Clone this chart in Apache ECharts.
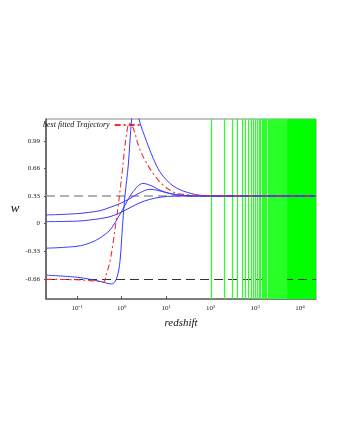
<!DOCTYPE html>
<html>
<head>
<meta charset="utf-8">
<script src="https://cdn.jsdelivr.net/npm/echarts@6/dist/echarts.min.js"></script>
<style>
  html, body { margin: 0; padding: 0; background: #fff; }
  #chart { width: 340px; height: 440px; }
</style>
</head>
<body>
<div id="chart"></div>
<script>
// best fitted trajectory (red dash-dot)
const redZ = [0.0203, 0.1, 0.195, 0.3, 0.387, 0.461, 0.547, 0.649, 0.745, 0.839, 0.93, 1.03, 1.14, 1.29, 1.48, 1.82, 2.35, 3.04, 3.94, 5.56, 8.53, 14.3, 23.9, 56.5, 22400];
const redW = [-0.665, -0.67, -0.68, -0.69, -0.70, -0.59, -0.45, -0.21, 0.02, 0.22, 0.42, 0.62, 0.85, 1.07, 1.20, 1.14, 0.94, 0.80, 0.69, 0.57, 0.46, 0.38, 0.35, 0.335, 0.33];

// blue trajectories
const blue1Z = [0.0203, 0.1, 0.195, 0.327, 0.494, 0.607, 0.773, 0.916, 1.0, 1.087, 1.186, 1.406, 1.676, 1.99, 2.44, 3.63, 5.1, 7.2, 10.2, 14.3, 23.9, 56.5, 158, 22400];
const blue1W = [-0.615, -0.64, -0.665, -0.69, -0.715, -0.72, -0.65, -0.45, -0.17, 0.10, 0.34, 0.70, 1.25, 1.50, 1.25, 0.98, 0.78, 0.62, 0.52, 0.45, 0.39, 0.34, 0.33, 0.33];

const blue2Z = [0.0203, 0.1, 0.1955, 0.327, 0.547, 0.785, 1.186, 1.79, 3.0, 4.76, 7.2, 12.0, 26, 94, 22400];
const blue2W = [-0.293, -0.27, -0.23, -0.17, -0.075, 0.05, 0.22, 0.38, 0.48, 0.45, 0.40, 0.36, 0.335, 0.33, 0.33];

const blue3Z = [0.0203, 0.1, 0.327, 0.547, 0.916, 1.535, 2.57, 4.3, 6.16, 10.2, 15.6, 26, 94, 22400];
const blue3W = [0.104, 0.12, 0.155, 0.195, 0.24, 0.30, 0.37, 0.41, 0.40, 0.37, 0.35, 0.335, 0.33, 0.33];

const blue4Z = [0.0203, 0.1, 0.1955, 0.327, 0.547, 0.916, 1.535, 2.57, 4.3, 7.2, 15.6, 56.5, 22400];
const blue4W = [0.024, 0.03, 0.044, 0.06, 0.083, 0.13, 0.19, 0.25, 0.29, 0.315, 0.33, 0.33, 0.33];

// green vertical lines (redshift positions)
const greenZ = [100, 200, 300, 400, 500, 600, 700, 800, 900, 1000,
  1100, 1200, 1300, 1400, 1500, 1600, 1700, 1800, 1900, 2000,
  2100, 2200, 2300, 2400, 2500, 2600, 2700, 2800, 2900, 3000,
  3100, 3200, 3300, 3400, 3500, 3600, 3700, 3800, 3900, 4000,
  4100, 4200, 4300, 4400, 4500, 4600, 4700, 4800, 4900, 5000];
const greenBandStart = 5000;

// reference levels
const wRadiation = 0.33;
const wTracker = -0.66;

// axes
const xTicks = [0.1, 1, 10, 100, 1000, 10000];
const yTicks = [-0.66, -0.33, 0, 0.33, 0.66, 0.99];
const xMin = 0.02, xMax = 23000;
const yMin = -0.9, yMax = 1.25;

const pairs = (xs, ys) => xs.map((x, i) => [x, ys[i]]);

const serif = 'Liberation Serif';
const blue = '#3a3aff';

const blueSeries = (data) => ({
  type: 'line',
  data: data,
  symbol: 'none',
  smooth: 0.35,
  z: 20,
  lineStyle: { color: blue, width: 1 }
});

const chart = echarts.init(document.getElementById('chart'));
chart.setOption({
  animation: false,
  backgroundColor: '#fff',
  grid: {
    left: 46, right: 24, top: 119, bottom: 141,
    show: true, borderColor: '#888', borderWidth: 1
  },
  legend: {
    data: ['best fitted Trajectory'],
    left: 43, top: 121,
    align: 'right',
    itemWidth: 26, itemHeight: 8, padding: 0,
    itemStyle: { opacity: 0 },
    textStyle: { fontFamily: serif, fontStyle: 'italic', fontSize: 8, color: '#111', padding: [0, 0, 0, 0] }
  },
  xAxis: {
    type: 'log',
    min: xMin, max: xMax,
    name: 'redshift',
    nameLocation: 'middle',
    nameGap: 19,
    nameTextStyle: { fontFamily: serif, fontStyle: 'italic', fontSize: 11, color: '#111' },
    axisLine: { onZero: false, lineStyle: { color: '#666', width: 1.5 } },
    axisTick: { customValues: xTicks, inside: true, length: 3, lineStyle: { color: '#555' } },
    splitLine: { show: false },
    minorSplitLine: { show: false },
    axisLabel: {
      customValues: xTicks,
      margin: 5,
      formatter: (v) => '{b|10}{e|' + Math.round(Math.log10(v)) + '}',
      rich: {
        b: { fontFamily: serif, fontSize: 7, color: '#222' },
        e: { fontFamily: serif, fontSize: 5, color: '#222', padding: [0, 0, 4, 0] }
      }
    }
  },
  yAxis: {
    type: 'value',
    min: yMin, max: yMax,
    name: 'w',
    nameLocation: 'middle',
    nameRotate: 0,
    nameGap: 13,
    nameTextStyle: { fontFamily: serif, fontStyle: 'italic', fontSize: 13, color: '#111' },
    axisLine: { show: true, onZero: false, lineStyle: { color: '#555', width: 1.5 } },
    axisTick: { customValues: yTicks, length: 2, lineStyle: { color: '#555' } },
    splitLine: { show: false },
    axisLabel: {
      customValues: yTicks,
      margin: 6,
      fontFamily: serif, fontSize: 7, color: '#222',
      formatter: (v) => v === 0 ? '0' : v.toFixed(2)
    }
  },
  series: [
    {
      // green redshift markers
      type: 'lines',
      coordinateSystem: 'cartesian2d',
      z: 10,
      silent: true,
      lineStyle: { color: '#2bff2b', width: 1.2, opacity: 1 },
      data: greenZ.map(z => ({ coords: [[z, yMin], [z, yMax]] }))
    },
    {
      // reference dashed levels + dense green band
      type: 'line',
      data: [],
      z: 12,
      markLine: {
        silent: true,
        symbol: 'none',
        label: { show: false },
        data: [
          { yAxis: wRadiation, lineStyle: { color: '#999', type: [9, 5], width: 1.5 } },
          { yAxis: wTracker, lineStyle: { color: '#333', type: [9, 5], width: 1 } }
        ]
      },
      markArea: {
        silent: true,
        itemStyle: { color: '#00ff00' },
        data: [[{ xAxis: greenBandStart }, { xAxis: xMax }]]
      }
    },
    blueSeries(pairs(blue1Z, blue1W)),
    blueSeries(pairs(blue2Z, blue2W)),
    blueSeries(pairs(blue3Z, blue3W)),
    blueSeries(pairs(blue4Z, blue4W)),
    {
      name: 'best fitted Trajectory',
      type: 'line',
      data: pairs(redZ, redW),
      symbol: 'none',
      smooth: 0.35,
      z: 21,
      lineStyle: { color: '#ff2a2a', width: 1.1, type: [6, 3, 2, 3] }
    }
  ]
});
</script>
</body>
</html>
